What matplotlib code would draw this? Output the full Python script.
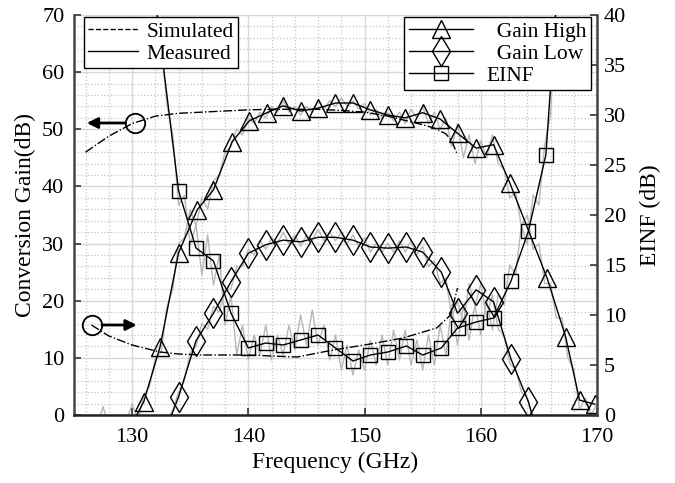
import numpy as np
import matplotlib
matplotlib.use('Agg')
import matplotlib.pyplot as plt
from matplotlib.ticker import MultipleLocator
from matplotlib.lines import Line2D

plt.rcParams['font.family'] = ['Liberation Serif', 'DejaVu Serif']

# ---- data ----
# Gain High, left axis (first point = where the line leaves 0 dB)
gh_f = [130.4, 131.0, 132.4, 134.0, 135.6, 137.0, 138.6, 140.1, 141.6, 143.0, 144.5,
        146.0, 147.5, 149.0, 150.5, 152.0, 153.5, 155.0, 156.5, 158.0, 159.6, 161.1,
        162.5, 165.7, 167.3, 168.5, 169.8]
gh_v = [0.0, 2.3, 11.9, 28.4, 35.9, 39.4, 47.8, 51.5, 52.9, 54.1, 53.2,
        53.7, 54.6, 54.6, 53.4, 52.5, 52.0, 52.9, 51.8, 49.3, 46.7, 47.3,
        40.6, 24.0, 13.7, 2.6, 1.9]

# Gain Low, left axis
gl_f = [133.4, 134.0, 135.5, 137.0, 138.5, 140.0, 141.5, 143.0, 144.5, 146.0, 147.5,
        149.0, 150.5, 152.0, 153.6, 155.0, 156.6, 158.0, 159.6, 161.1, 162.6, 164.1, 164.5]
gl_v = [0.0, 3.2, 13.0, 17.8, 23.3, 28.3, 29.8, 30.6, 30.3, 31.1, 31.1,
        30.6, 29.4, 29.2, 29.4, 28.5, 25.0, 17.8, 21.9, 19.8, 9.8, 2.3, -0.5]

# EINF, right axis
ei_f = [131.9, 134.0, 135.5, 137.0, 138.5, 140.0, 141.5, 143.0, 144.5, 146.0, 147.5,
        149.0, 150.5, 152.0, 153.6, 155.0, 156.6, 158.0, 159.6, 161.1, 162.6, 164.1,
        165.6, 166.7]
ei_v = [42.4, 22.4, 16.7, 15.4, 10.2, 6.7, 7.2, 7.0, 7.5, 8.0, 6.7,
        5.4, 6.0, 6.3, 6.9, 6.0, 6.7, 8.7, 9.3, 9.7, 13.4, 18.4,
        26.0, 44.5]

# simulated curves
sim_gain_f = [126, 128, 130, 132, 134, 136, 138, 140, 142, 144, 146, 148, 150, 152,
              154, 155, 156, 157, 157.5, 158]
sim_gain_v = [46.0, 48.8, 51.0, 52.3, 52.8, 53.0, 53.2, 53.4, 53.5, 53.5, 53.5, 53.3,
              53.0, 52.3, 51.3, 50.8, 50.2, 49.2, 48.0, 45.5]
sim_einf_f = [126.5, 128, 130, 132.4, 134, 136.1, 139.9, 142, 144.2, 147.3, 150.5,
              153.3, 156.2, 157.4, 158]
sim_einf_v = [9.0, 7.9, 7.0, 6.3, 6.1, 6.0, 6.0, 5.9, 5.8, 6.5, 7.1,
              7.7, 8.7, 10.0, 12.7]

# raw measured traces (grey)
raw_gh_f = np.arange(127.0, 170.01, 0.5)
raw_gh_v = [-2, 1.5, -2, -1, -3, -1, 2, -1, 3.5, 5, 10, 11, 19, 22, 30, 31, 36, 33,
            38, 36, 41, 42, 46, 47, 50, 49, 52, 51, 53, 52, 54, 53, 55, 53, 54, 52.5,
            54, 53, 55, 53.5, 55, 54, 55.5, 54, 55, 53.5, 54.5, 52.5, 53.5, 52, 53,
            51.5, 53, 51, 53.5, 52, 54, 51, 53, 50, 52, 47, 51, 45, 49, 44, 48, 45,
            49, 44, 43, 38, 39, 33, 35, 29, 30, 23, 23, 17, 17, 10, 8, 1, 3, 0, 2]
raw_gl_f = np.arange(133.0, 164.51, 0.5)
raw_gl_v = [-1, 1, 4, 6, 11, 12, 16, 15, 19, 18, 22, 22, 26, 26, 29, 28, 30.5, 29,
            31, 30, 32, 30, 31.5, 29.5, 31.5, 30.5, 32.5, 30.5, 32, 30.5, 32, 30,
            31.5, 29.5, 31, 28.5, 30, 28.5, 30, 28.5, 30.5, 28.5, 30.5, 28, 29.5,
            26, 27, 23, 24, 17, 20, 16, 23, 19, 23, 17, 21, 15, 14, 9, 8, 4, 3, -1]
raw_ei_f = np.arange(132.0, 166.51, 0.5)
raw_ei_v = [42, 37, 31, 28, 21, 22, 17, 19, 14, 18, 13, 16, 9, 12, 6, 9, 5.5, 8,
            6, 9, 5.5, 8, 6, 9, 6.5, 10, 7, 10.5, 7, 9, 5.5, 8, 4.5, 7, 4, 6.5,
            4.5, 7.5, 5, 8, 5, 8.5, 5.5, 8.5, 5, 7.5, 4.5, 8, 5, 9, 6, 11, 7, 11,
            7.5, 11, 8, 11.5, 8.5, 12, 11, 15, 14, 19, 17, 22, 21, 27, 30, 42]

xticks = [130, 140, 150, 160, 170]

# ---- figure ----
fig = plt.figure(figsize=(6.75, 4.83), dpi=100)
ax1 = fig.add_axes([74/675, 68/483, 523/675, 400/483])
ax2 = ax1.twinx()

ax1.set_xlim(125, 170)
ax1.set_ylim(0, 70)
ax2.set_ylim(0, 40)

grey = '#b8b8b8'
ax1.plot(raw_gh_f, raw_gh_v, color=grey, lw=1, zorder=1)
ax1.plot(raw_gl_f, raw_gl_v, color=grey, lw=1, zorder=1)
ax1.plot(raw_ei_f, raw_ei_v, color=grey, lw=1, zorder=1, transform=ax2.transData)

ax1.plot(sim_gain_f, sim_gain_v, 'k-.', lw=1, zorder=2)
ax1.plot(sim_einf_f, sim_einf_v, 'k-.', lw=1, zorder=2, transform=ax2.transData)

ax1.plot(gh_f, gh_v, 'k-', lw=1, marker='^', ms=13.5, mfc='none', mec='k',
         markevery=list(range(1, len(gh_f))), zorder=3)
ax1.plot(gl_f, gl_v, 'k-', lw=1, marker='d', ms=15, mfc='none', mec='k',
         markevery=list(range(1, len(gl_f) - 1)), zorder=3)
ax2.plot(ei_f, ei_v, 'k-', lw=1, marker='s', ms=10, mfc='none', mec='k',
         markevery=list(range(1, len(ei_f) - 1)), zorder=3)

# axis pointer circles
ax1.plot([130.25], [51.1], 'o', ms=14, mfc='none', mec='k', mew=1.3, zorder=4)
ax1.annotate('', xy=(126.1, 51.1), xytext=(129.4, 51.1),
             arrowprops=dict(arrowstyle='-|>', color='k', lw=2, mutation_scale=16,
                             shrinkA=0, shrinkB=0))
ax2.plot([126.55], [9.0], 'o', ms=14, mfc='none', mec='k', mew=1.3, zorder=4)
ax2.annotate('', xy=(130.4, 9.0), xytext=(127.4, 9.0),
             arrowprops=dict(arrowstyle='-|>', color='k', lw=2, mutation_scale=16,
                             shrinkA=0, shrinkB=0))

# ticks / grid
ax1.set_xticks(xticks)
ax1.set_yticks(np.arange(0, 71, 10))
ax2.set_yticks(np.arange(0, 41, 5))
ax1.xaxis.set_minor_locator(MultipleLocator(2))
ax1.yaxis.set_minor_locator(MultipleLocator(2))
ax1.grid(which='major', color='#d8d8d8', lw=1, ls='-')
ax1.grid(which='minor', color='#c4c4c4', lw=0.9, ls=':')
ax1.set_axisbelow(True)

for ax in (ax1, ax2):
    ax.tick_params(which='major', direction='in', length=5, width=1.2,
                   labelsize=16, color='#333333')
    ax.tick_params(which='minor', length=0)
    ax.spines['top'].set_visible(False)
    for s in ax.spines.values():
        s.set_linewidth(1.8)
        s.set_color('#444444')
ax1.tick_params(axis='x', pad=9)
ax1.tick_params(axis='y', pad=7)
ax2.tick_params(axis='y', pad=5)
ax1.spines['bottom'].set_color('#222222')
ax1.spines['right'].set_visible(False)
ax2.spines['left'].set_visible(False)
ax2.spines['bottom'].set_visible(False)

ax1.set_xlabel('Frequency (GHz)', fontsize=17, labelpad=4)
ax1.set_ylabel('Conversion Gain(dB)', fontsize=17, labelpad=4)
ax2.set_ylabel('EINF (dB)', fontsize=17, labelpad=10)

# legends
h1 = [Line2D([], [], color='k', ls='--', lw=1),
      Line2D([], [], color='k', ls='-', lw=1)]
leg1 = ax2.legend(h1, ['Simulated', 'Measured'], loc='upper left',
                  bbox_to_anchor=(8/523, 1.0), fontsize=15.5, frameon=True,
                  fancybox=False, edgecolor='k', framealpha=1, handlelength=2.3,
                  labelspacing=0.1, borderpad=0.2, handletextpad=0.4,
                  borderaxespad=0.1)
leg1.get_frame().set_linewidth(1)
ax2.add_artist(leg1)

h2 = [Line2D([], [], color='k', lw=1, marker='^', ms=13.5, mfc='none'),
      Line2D([], [], color='k', lw=1, marker='d', ms=15, mfc='none'),
      Line2D([], [], color='k', lw=1, marker='s', ms=10, mfc='none')]
leg2 = ax2.legend(h2, ['  Gain High', '  Gain Low', 'EINF'], loc='upper right',
                  bbox_to_anchor=(1 - 4/523, 1.0), fontsize=15.5, frameon=True,
                  fancybox=False, edgecolor='k', framealpha=1, handlelength=3.0,
                  labelspacing=0.1, borderpad=0.2, handletextpad=0.6,
                  borderaxespad=0.1)
leg2.get_frame().set_linewidth(1)

fig.savefig('out.png', dpi=100)
